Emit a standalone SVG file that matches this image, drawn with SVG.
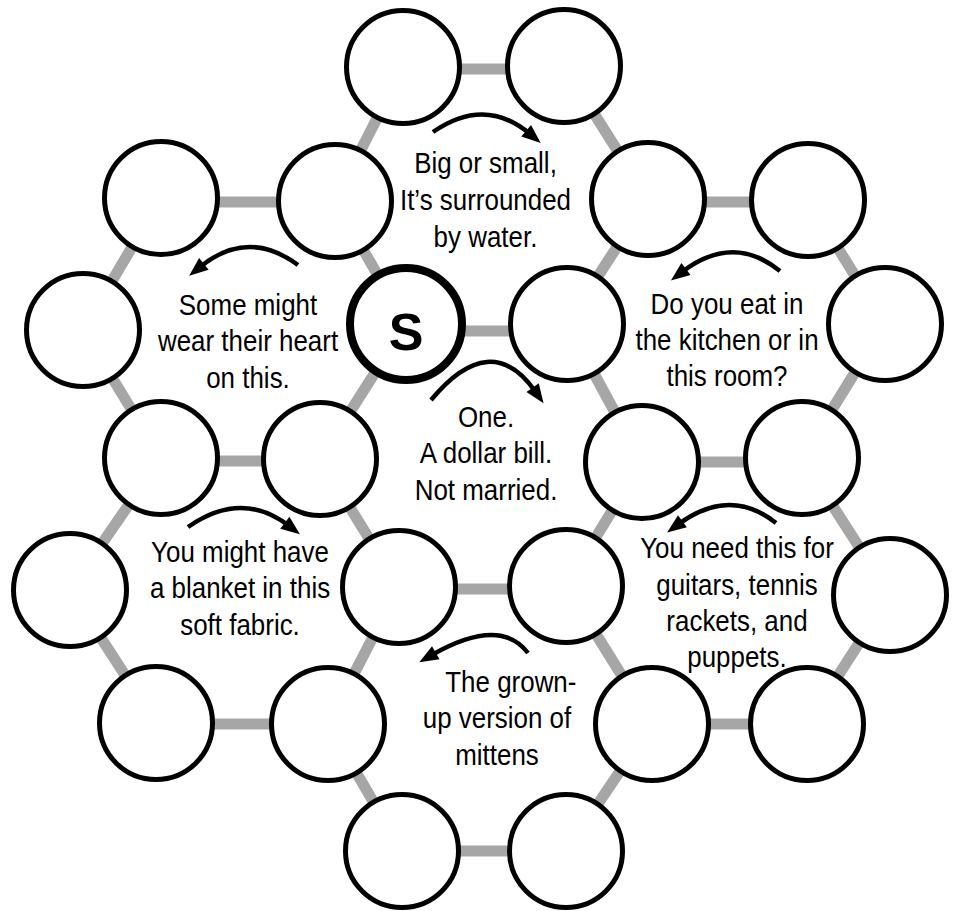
<svg xmlns="http://www.w3.org/2000/svg" width="959" height="911" viewBox="0 0 959 911">
<style>
.bg{fill:#ffffff}
.link{stroke:#a6a6a6;stroke-width:11;stroke-linecap:butt;fill:none}
.node{fill:#ffffff;stroke:#000000;stroke-width:5}
.start{fill:#ffffff;stroke:#000000;stroke-width:8}
.clue{font-family:"Liberation Sans",Arial,sans-serif;font-size:30px;fill:#000000;text-anchor:middle}
.slabel{font-family:"Liberation Sans",Arial,sans-serif;font-size:52px;font-weight:bold;fill:#000000;text-anchor:middle}
.arrow{fill:none;stroke:#000000;stroke-width:4.5;stroke-linecap:butt}
</style>
<defs>
<marker id="ah" markerUnits="userSpaceOnUse" markerWidth="20" markerHeight="16" refX="5" refY="7.5" orient="auto" overflow="visible">
<path d="M0,0 L19,7.5 L0,15 Z" fill="#000000"/>
</marker>
</defs>
<rect class="bg" x="0" y="0" width="959" height="911"/>
<g id="connectors">
<line class="link" x1="403" y1="69" x2="564" y2="69"/>
<line class="link" x1="403" y1="67" x2="335" y2="201"/>
<line class="link" x1="564" y1="66" x2="648" y2="199"/>
<line class="link" x1="161" y1="202" x2="335" y2="202"/>
<line class="link" x1="161" y1="198" x2="83" y2="330"/>
<line class="link" x1="335" y1="201" x2="406" y2="324"/>
<line class="link" x1="648" y1="202" x2="808" y2="202"/>
<line class="link" x1="648" y1="199" x2="567" y2="324"/>
<line class="link" x1="808" y1="200" x2="885" y2="324"/>
<line class="link" x1="406" y1="331" x2="567" y2="331"/>
<line class="link" x1="83" y1="330" x2="161" y2="458"/>
<line class="link" x1="406" y1="324" x2="320" y2="459"/>
<line class="link" x1="567" y1="324" x2="642" y2="462"/>
<line class="link" x1="885" y1="324" x2="802" y2="458"/>
<line class="link" x1="161" y1="461" x2="320" y2="461"/>
<line class="link" x1="642" y1="462" x2="802" y2="462"/>
<line class="link" x1="161" y1="458" x2="70" y2="590"/>
<line class="link" x1="320" y1="459" x2="399" y2="587"/>
<line class="link" x1="642" y1="462" x2="566" y2="586"/>
<line class="link" x1="802" y1="458" x2="890" y2="595"/>
<line class="link" x1="399" y1="589" x2="566" y2="589"/>
<line class="link" x1="70" y1="590" x2="156" y2="723"/>
<line class="link" x1="399" y1="587" x2="328" y2="724"/>
<line class="link" x1="566" y1="586" x2="652" y2="724"/>
<line class="link" x1="890" y1="595" x2="807" y2="724"/>
<line class="link" x1="156" y1="724" x2="328" y2="724"/>
<line class="link" x1="652" y1="724" x2="807" y2="724"/>
<line class="link" x1="328" y1="724" x2="402" y2="851"/>
<line class="link" x1="652" y1="724" x2="566" y2="851"/>
<line class="link" x1="402" y1="851" x2="566" y2="851"/>
</g>
<g id="clues">
<text class="clue" transform="translate(485.5 0) scale(0.865 1)"><tspan x="0" y="173">Big or small,</tspan><tspan x="0" y="210.5">It’s surrounded</tspan><tspan x="0" y="247">by water.</tspan></text>
<text class="clue" transform="translate(248 0) scale(0.865 1)"><tspan x="0" y="315">Some might</tspan><tspan x="0" y="351.5">wear their heart</tspan><tspan x="0" y="388">on this.</tspan></text>
<text class="clue" transform="translate(727 0) scale(0.865 1)"><tspan x="0" y="314">Do you eat in</tspan><tspan x="0" y="350">the kitchen or in</tspan><tspan x="0" y="386.5">this room?</tspan></text>
<text class="clue" transform="translate(486 0) scale(0.865 1)"><tspan x="0" y="427">One.</tspan><tspan x="0" y="463">A dollar bill.</tspan><tspan x="0" y="500">Not married.</tspan></text>
<text class="clue" transform="translate(240 0) scale(0.865 1)"><tspan x="0" y="561.5">You might have</tspan><tspan x="0" y="598">a blanket in this</tspan><tspan x="0" y="635">soft fabric.</tspan></text>
<text class="clue" transform="translate(737 0) scale(0.865 1)"><tspan x="0" y="558">You need this for</tspan><tspan x="0" y="595">guitars, tennis</tspan><tspan x="0" y="631">rackets, and</tspan><tspan x="0" y="667">puppets.</tspan></text>
<text class="clue" transform="translate(497 0) scale(0.865 1)"><tspan x="16" y="692.5">The grown-</tspan><tspan x="0" y="728.5">up version of</tspan><tspan x="0" y="765">mittens</tspan></text>
</g>
<g id="arrows">
<path class="arrow" marker-end="url(#ah)" d="M433,132 Q485,96 530,134"/>
<path class="arrow" marker-end="url(#ah)" d="M298,265 Q248,228 200,267"/>
<path class="arrow" marker-end="url(#ah)" d="M780,271 Q733,233 682,272"/>
<path class="arrow" marker-end="url(#ah)" d="M431,400 Q490.7,328 535.5,391.7"/>
<path class="arrow" marker-end="url(#ah)" d="M188,527 Q241.6,489.6 288.8,525.8"/>
<path class="arrow" marker-end="url(#ah)" d="M776,523 Q730,486.4 678.4,524.2"/>
<path class="arrow" marker-end="url(#ah)" d="M528,653 Q500,616 431.4,655.2"/>
</g>
<g id="n1"><circle class="node" cx="403" cy="67" r="56.5"/></g>
<g id="n2"><circle class="node" cx="564" cy="66" r="56.5"/></g>
<g id="n3"><circle class="node" cx="161" cy="198" r="56.5"/></g>
<g id="n4"><circle class="node" cx="335" cy="201" r="56.5"/></g>
<g id="n5"><circle class="node" cx="648" cy="199" r="56.5"/></g>
<g id="n6"><circle class="node" cx="808" cy="200" r="56.5"/></g>
<g id="n7"><circle class="node" cx="83" cy="330" r="56.5"/></g>
<g id="start"><circle class="start" cx="406" cy="324" r="56"/><text class="slabel" x="406" y="350">S</text></g>
<g id="n9"><circle class="node" cx="567" cy="324" r="56.5"/></g>
<g id="n10"><circle class="node" cx="885" cy="324" r="56.5"/></g>
<g id="n11"><circle class="node" cx="161" cy="458" r="56.5"/></g>
<g id="n12"><circle class="node" cx="320" cy="459" r="56.5"/></g>
<g id="n13"><circle class="node" cx="642" cy="462" r="56.5"/></g>
<g id="n14"><circle class="node" cx="802" cy="458" r="56.5"/></g>
<g id="n15"><circle class="node" cx="70" cy="590" r="56.5"/></g>
<g id="n16"><circle class="node" cx="399" cy="587" r="56.5"/></g>
<g id="n17"><circle class="node" cx="566" cy="586" r="56.5"/></g>
<g id="n18"><circle class="node" cx="890" cy="595" r="56.5"/></g>
<g id="n19"><circle class="node" cx="156" cy="723" r="56.5"/></g>
<g id="n20"><circle class="node" cx="328" cy="724" r="56.5"/></g>
<g id="n21"><circle class="node" cx="652" cy="724" r="56.5"/></g>
<g id="n22"><circle class="node" cx="807" cy="724" r="56.5"/></g>
<g id="n23"><circle class="node" cx="402" cy="851" r="56.5"/></g>
<g id="n24"><circle class="node" cx="566" cy="851" r="56.5"/></g>
</svg>
